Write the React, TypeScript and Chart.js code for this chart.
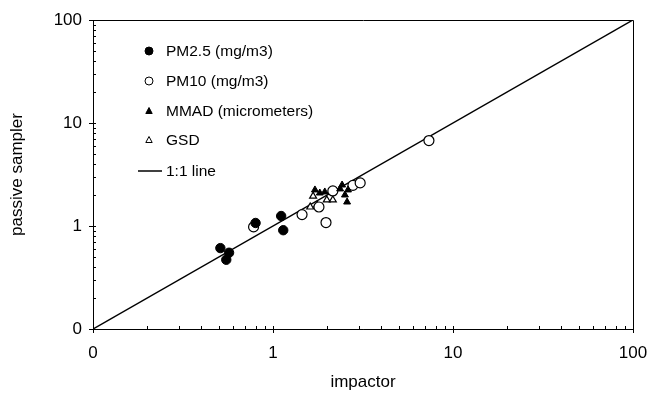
import React, { useEffect, useRef } from "react";
import { Chart, registerables } from "chart.js";

Chart.register(...registerables);

// ---- data (impactor x, passive sampler y) ----
const pm25X = [0.51, 0.57, 0.55, 0.8, 1.11, 1.14];
const pm25Y = [0.61, 0.55, 0.47, 1.07, 1.25, 0.91];

const pm10X = [0.78, 1.45, 1.8, 1.97, 2.15, 2.78, 3.05, 7.35];
const pm10Y = [0.98, 1.29, 1.53, 1.08, 2.19, 2.48, 2.62, 6.75];

const mmadX = [1.71, 1.82, 1.94, 2.42, 2.36, 2.61, 2.51, 2.58];
const mmadY = [2.24, 2.09, 2.14, 2.5, 2.29, 2.24, 2.0, 1.71];

const gsdX = [1.67, 1.99, 1.61, 1.76, 2.15];
const gsdY = [1.95, 1.79, 1.53, 1.6, 1.79];

const lineX = [0.1, 100];
const lineY = [0.1, 100];

const majorTicks = [0.1, 1, 10, 100];
const tickLabels = ["0", "1", "10", "100"];

const seriesNames = ["PM2.5 (mg/m3)", "PM10 (mg/m3)", "MMAD (micrometers)", "GSD", "1:1 line"];

const FONT = "'Liberation Sans', Arial, sans-serif";

const toPts = (xs: number[], ys: number[]) => xs.map((x, i) => ({ x, y: ys[i] }));

const zeroPad = (s: any) => {
  s.paddingLeft = 0;
  s.paddingRight = 0;
  s.paddingTop = 0;
  s.paddingBottom = 0;
};

const boxTicksPlugin = {
  id: "boxTicks",
  afterDraw(chart: any) {
    const { ctx, chartArea } = chart;
    const { left, right, top, bottom } = chartArea;
    const xs = chart.scales.x;
    const ys = chart.scales.y;
    ctx.save();
    ctx.strokeStyle = "#000";
    ctx.lineWidth = 1;
    ctx.beginPath();
    ctx.rect(left + 0.5, top + 0.5, right - left, bottom - top);
    ctx.stroke();
    ctx.beginPath();
    for (let d = -1; d < 2; d++) {
      const base = Math.pow(10, d);
      for (let m = 1; m <= 9; m++) {
        const v = base * m;
        const px = Math.round(xs.getPixelForValue(v)) + 0.5;
        const py = Math.round(ys.getPixelForValue(v)) + 0.5;
        if (m === 1) {
          ctx.moveTo(px, bottom - 3);
          ctx.lineTo(px, bottom + 4);
          ctx.moveTo(left - 4, py);
          ctx.lineTo(left + 3, py);
        } else {
          ctx.moveTo(px, bottom);
          ctx.lineTo(px, bottom - 3);
          ctx.moveTo(left, py);
          ctx.lineTo(left + 3, py);
        }
      }
    }
    const p100x = Math.round(xs.getPixelForValue(100)) + 0.5;
    const p100y = Math.round(ys.getPixelForValue(100)) + 0.5;
    ctx.moveTo(p100x, bottom - 3);
    ctx.lineTo(p100x, bottom + 4);
    ctx.moveTo(left - 4, p100y);
    ctx.lineTo(left + 3, p100y);
    ctx.stroke();

    // legend
    const lx = 149;
    const tx = 166;
    const rows = [51, 81, 111, 140, 171];
    ctx.font = `15.5px ${FONT}`;
    ctx.textBaseline = "middle";
    ctx.textAlign = "left";
    chart.data.datasets.forEach((ds: any, i: number) => {
      const y = rows[i];
      ctx.fillStyle = "#000";
      ctx.fillText(seriesNames[i], tx, y + 1);
      ctx.lineWidth = 1;
      ctx.strokeStyle = "#000";
      if (ds.type === "line") {
        ctx.lineWidth = 1.5;
        ctx.beginPath();
        ctx.moveTo(138, y);
        ctx.lineTo(162, y);
        ctx.stroke();
      } else if (ds.pointStyle === "circle") {
        ctx.beginPath();
        ctx.arc(lx, y, 4, 0, Math.PI * 2);
        ctx.fillStyle = ds.pointBackgroundColor;
        ctx.fill();
        ctx.stroke();
      } else {
        ctx.beginPath();
        ctx.moveTo(lx, y - 3.5);
        ctx.lineTo(lx + 3.2, y + 2.5);
        ctx.lineTo(lx - 3.2, y + 2.5);
        ctx.closePath();
        ctx.fillStyle = ds.pointBackgroundColor;
        ctx.fill();
        ctx.stroke();
      }
    });
    ctx.restore();
  },
};

const labelFor = (v: any) => {
  const i = majorTicks.findIndex((m) => Math.abs(m - Number(v)) / m < 1e-6);
  return i >= 0 ? tickLabels[i] : "";
};

export default function App() {
  const ref = useRef<HTMLCanvasElement | null>(null);

  useEffect(() => {
    if (!ref.current) return;
    const chart = new Chart(ref.current, {
      type: "scatter",
      data: {
        datasets: [
          {
            label: seriesNames[0],
            data: toPts(pm25X, pm25Y),
            pointStyle: "circle",
            pointRadius: 4.7,
            pointBackgroundColor: "#000",
            pointBorderColor: "#000",
            pointBorderWidth: 1,
            order: 1,
          } as any,
          {
            label: seriesNames[1],
            data: toPts(pm10X, pm10Y),
            pointStyle: "circle",
            pointRadius: 5,
            pointBackgroundColor: "#fff",
            pointBorderColor: "#000",
            pointBorderWidth: 1.2,
            order: 3,
          },
          {
            label: seriesNames[2],
            data: toPts(mmadX, mmadY),
            pointStyle: "triangle",
            pointRadius: 4,
            pointBackgroundColor: "#000",
            pointBorderColor: "#000",
            pointBorderWidth: 1,
            order: 2,
          },
          {
            label: seriesNames[3],
            data: toPts(gsdX, gsdY),
            pointStyle: "triangle",
            pointRadius: 4,
            pointBackgroundColor: "#fff",
            pointBorderColor: "#000",
            pointBorderWidth: 1.2,
            order: 4,
          },
          {
            type: "line",
            label: seriesNames[4],
            data: toPts(lineX, lineY),
            borderColor: "#000",
            borderWidth: 1.5,
            pointRadius: 0,
            fill: false,
            order: 5,
          } as any,
        ],
      },
      options: {
        responsive: false,
        animation: false,
        events: [],
        layout: { padding: { left: 0, top: 20, right: 19, bottom: 0 } },
        plugins: { legend: { display: false }, tooltip: { enabled: false } },
        scales: {
          x: {
            type: "logarithmic",
            min: 0.1,
            max: 100,
            afterBuildTicks: (s: any) => {
              s.ticks = majorTicks.map((v) => ({ value: v }));
            },
            afterFit: (s: any) => {
              s.height = 64;
              zeroPad(s);
            },
            grid: { display: false, drawTicks: false },
            border: { display: true, color: "#000", width: 1 },
            ticks: {
              autoSkip: false,
              maxRotation: 0,
              padding: 14,
              color: "#000",
              font: { family: FONT, size: 17 },
              callback: labelFor,
            },
            title: {
              display: true,
              text: "impactor",
              color: "#000",
              font: { family: FONT, size: 17 },
              padding: { top: 0, bottom: 0 },
            },
          },
          y: {
            type: "logarithmic",
            min: 0.1,
            max: 100,
            afterBuildTicks: (s: any) => {
              s.ticks = majorTicks.map((v) => ({ value: v }));
            },
            afterFit: (s: any) => {
              s.width = 93;
              zeroPad(s);
            },
            grid: { display: false, drawTicks: false },
            border: { display: true, color: "#000", width: 1 },
            ticks: {
              autoSkip: false,
              padding: 11,
              color: "#000",
              font: { family: FONT, size: 17 },
              callback: labelFor,
            },
            title: {
              display: true,
              text: "passive sampler",
              color: "#000",
              font: { family: FONT, size: 17 },
              padding: { top: 7, bottom: 0 },
            },
          },
        },
      },
      plugins: [boxTicksPlugin],
    });
    return () => chart.destroy();
  }, []);

  return (
    <div style={{ position: "absolute", left: 0, top: 0, width: 652, height: 393, background: "#fff" }}>
      <canvas ref={ref} width={652} height={393} style={{ display: "block" }} />
    </div>
  );
}
